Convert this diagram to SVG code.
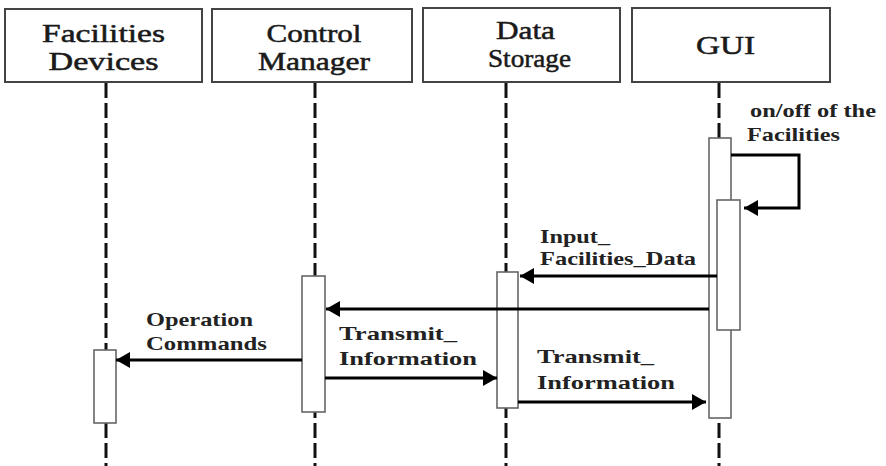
<svg xmlns="http://www.w3.org/2000/svg" width="886" height="466" viewBox="0 0 886 466">
<style>
.hdr{fill:#fff;stroke:#444;stroke-width:2}
.ht{font-family:"Liberation Serif","Times New Roman",serif;font-size:25px;fill:#1a1a1a;stroke:#1a1a1a;stroke-width:0.5;text-anchor:middle}
.life{stroke:#111;stroke-width:3;stroke-dasharray:15 5;fill:none}
.act{fill:#fff;stroke:#666;stroke-width:1.6}
.msg{stroke:#000;stroke-width:3;fill:none}
.lbl{font-family:"Liberation Serif","Times New Roman",serif;font-size:19px;font-weight:bold;fill:#222}
</style>
<defs>
<marker id="ah" markerUnits="userSpaceOnUse" markerWidth="16" markerHeight="18" refX="14" refY="9" orient="auto">
<path d="M0,1 L14,9 L0,17 z" fill="#000"/>
</marker>
</defs>
<g id="facilities-devices">
<rect class="hdr" x="5" y="9" width="197" height="73"/>
<text class="ht" x="103.5" y="42" textLength="123" lengthAdjust="spacingAndGlyphs">Facilities</text>
<text class="ht" x="103.5" y="70" textLength="110" lengthAdjust="spacingAndGlyphs">Devices</text>
<line class="life" x1="106" y1="83" x2="106" y2="466"/>
<rect class="act" x="94" y="350" width="22" height="73"/>
</g>
<g id="control-manager">
<rect class="hdr" x="212" y="9" width="200" height="73"/>
<text class="ht" x="314" y="42" textLength="95" lengthAdjust="spacingAndGlyphs">Control</text>
<text class="ht" x="314" y="70" textLength="112" lengthAdjust="spacingAndGlyphs">Manager</text>
<line class="life" x1="315" y1="83" x2="315" y2="466"/>
<rect class="act" x="302" y="276" width="23" height="136"/>
</g>
<g id="data-storage">
<rect class="hdr" x="423" y="8" width="197" height="74"/>
<text class="ht" x="525.5" y="39" textLength="59" lengthAdjust="spacingAndGlyphs">Data</text>
<text class="ht" x="529.5" y="67" textLength="83" lengthAdjust="spacingAndGlyphs">Storage</text>
<line class="life" x1="506" y1="83" x2="506" y2="466"/>
<rect class="act" x="497" y="272" width="21" height="136"/>
</g>
<g id="gui">
<rect class="hdr" x="632" y="8" width="198" height="74"/>
<text class="ht" x="725.5" y="54" textLength="59" lengthAdjust="spacingAndGlyphs">GUI</text>
<line class="life" x1="719" y1="83" x2="719" y2="466"/>
<rect class="act" x="709" y="138" width="22" height="280"/>
<rect class="act" x="717" y="200" width="23" height="130"/>
</g>
<g id="connectors">
<path class="msg" d="M731,155 H799 V208 H744" stroke-width="4" marker-end="url(#ah)"/>
<line class="msg" x1="717" y1="276" x2="520" y2="276" marker-end="url(#ah)"/>
<line class="msg" x1="709" y1="309" x2="326" y2="309" marker-end="url(#ah)"/>
<line class="msg" x1="302" y1="360" x2="116" y2="360" marker-end="url(#ah)"/>
<line class="msg" x1="325" y1="378" x2="497" y2="378" marker-end="url(#ah)"/>
<line class="msg" x1="518" y1="402" x2="706" y2="402" marker-end="url(#ah)"/>
</g>
<g id="labels">
<text class="lbl" x="750" y="117" textLength="126" lengthAdjust="spacingAndGlyphs">on/off of the</text>
<text class="lbl" x="747" y="141" textLength="93" lengthAdjust="spacingAndGlyphs">Facilities</text>
<text class="lbl" x="540" y="243" textLength="70" lengthAdjust="spacingAndGlyphs">Input_</text>
<text class="lbl" x="540" y="265" textLength="156" lengthAdjust="spacingAndGlyphs">Facilities_Data</text>
<text class="lbl" x="146" y="326" textLength="107" lengthAdjust="spacingAndGlyphs">Operation</text>
<text class="lbl" x="146" y="350" textLength="121" lengthAdjust="spacingAndGlyphs">Commands</text>
<text class="lbl" x="339" y="340" textLength="118" lengthAdjust="spacingAndGlyphs">Transmit_</text>
<text class="lbl" x="339" y="365" textLength="138" lengthAdjust="spacingAndGlyphs">Information</text>
<text class="lbl" x="537" y="363" textLength="117" lengthAdjust="spacingAndGlyphs">Transmit_</text>
<text class="lbl" x="537" y="389" textLength="138" lengthAdjust="spacingAndGlyphs">Information</text>
</g>
</svg>
